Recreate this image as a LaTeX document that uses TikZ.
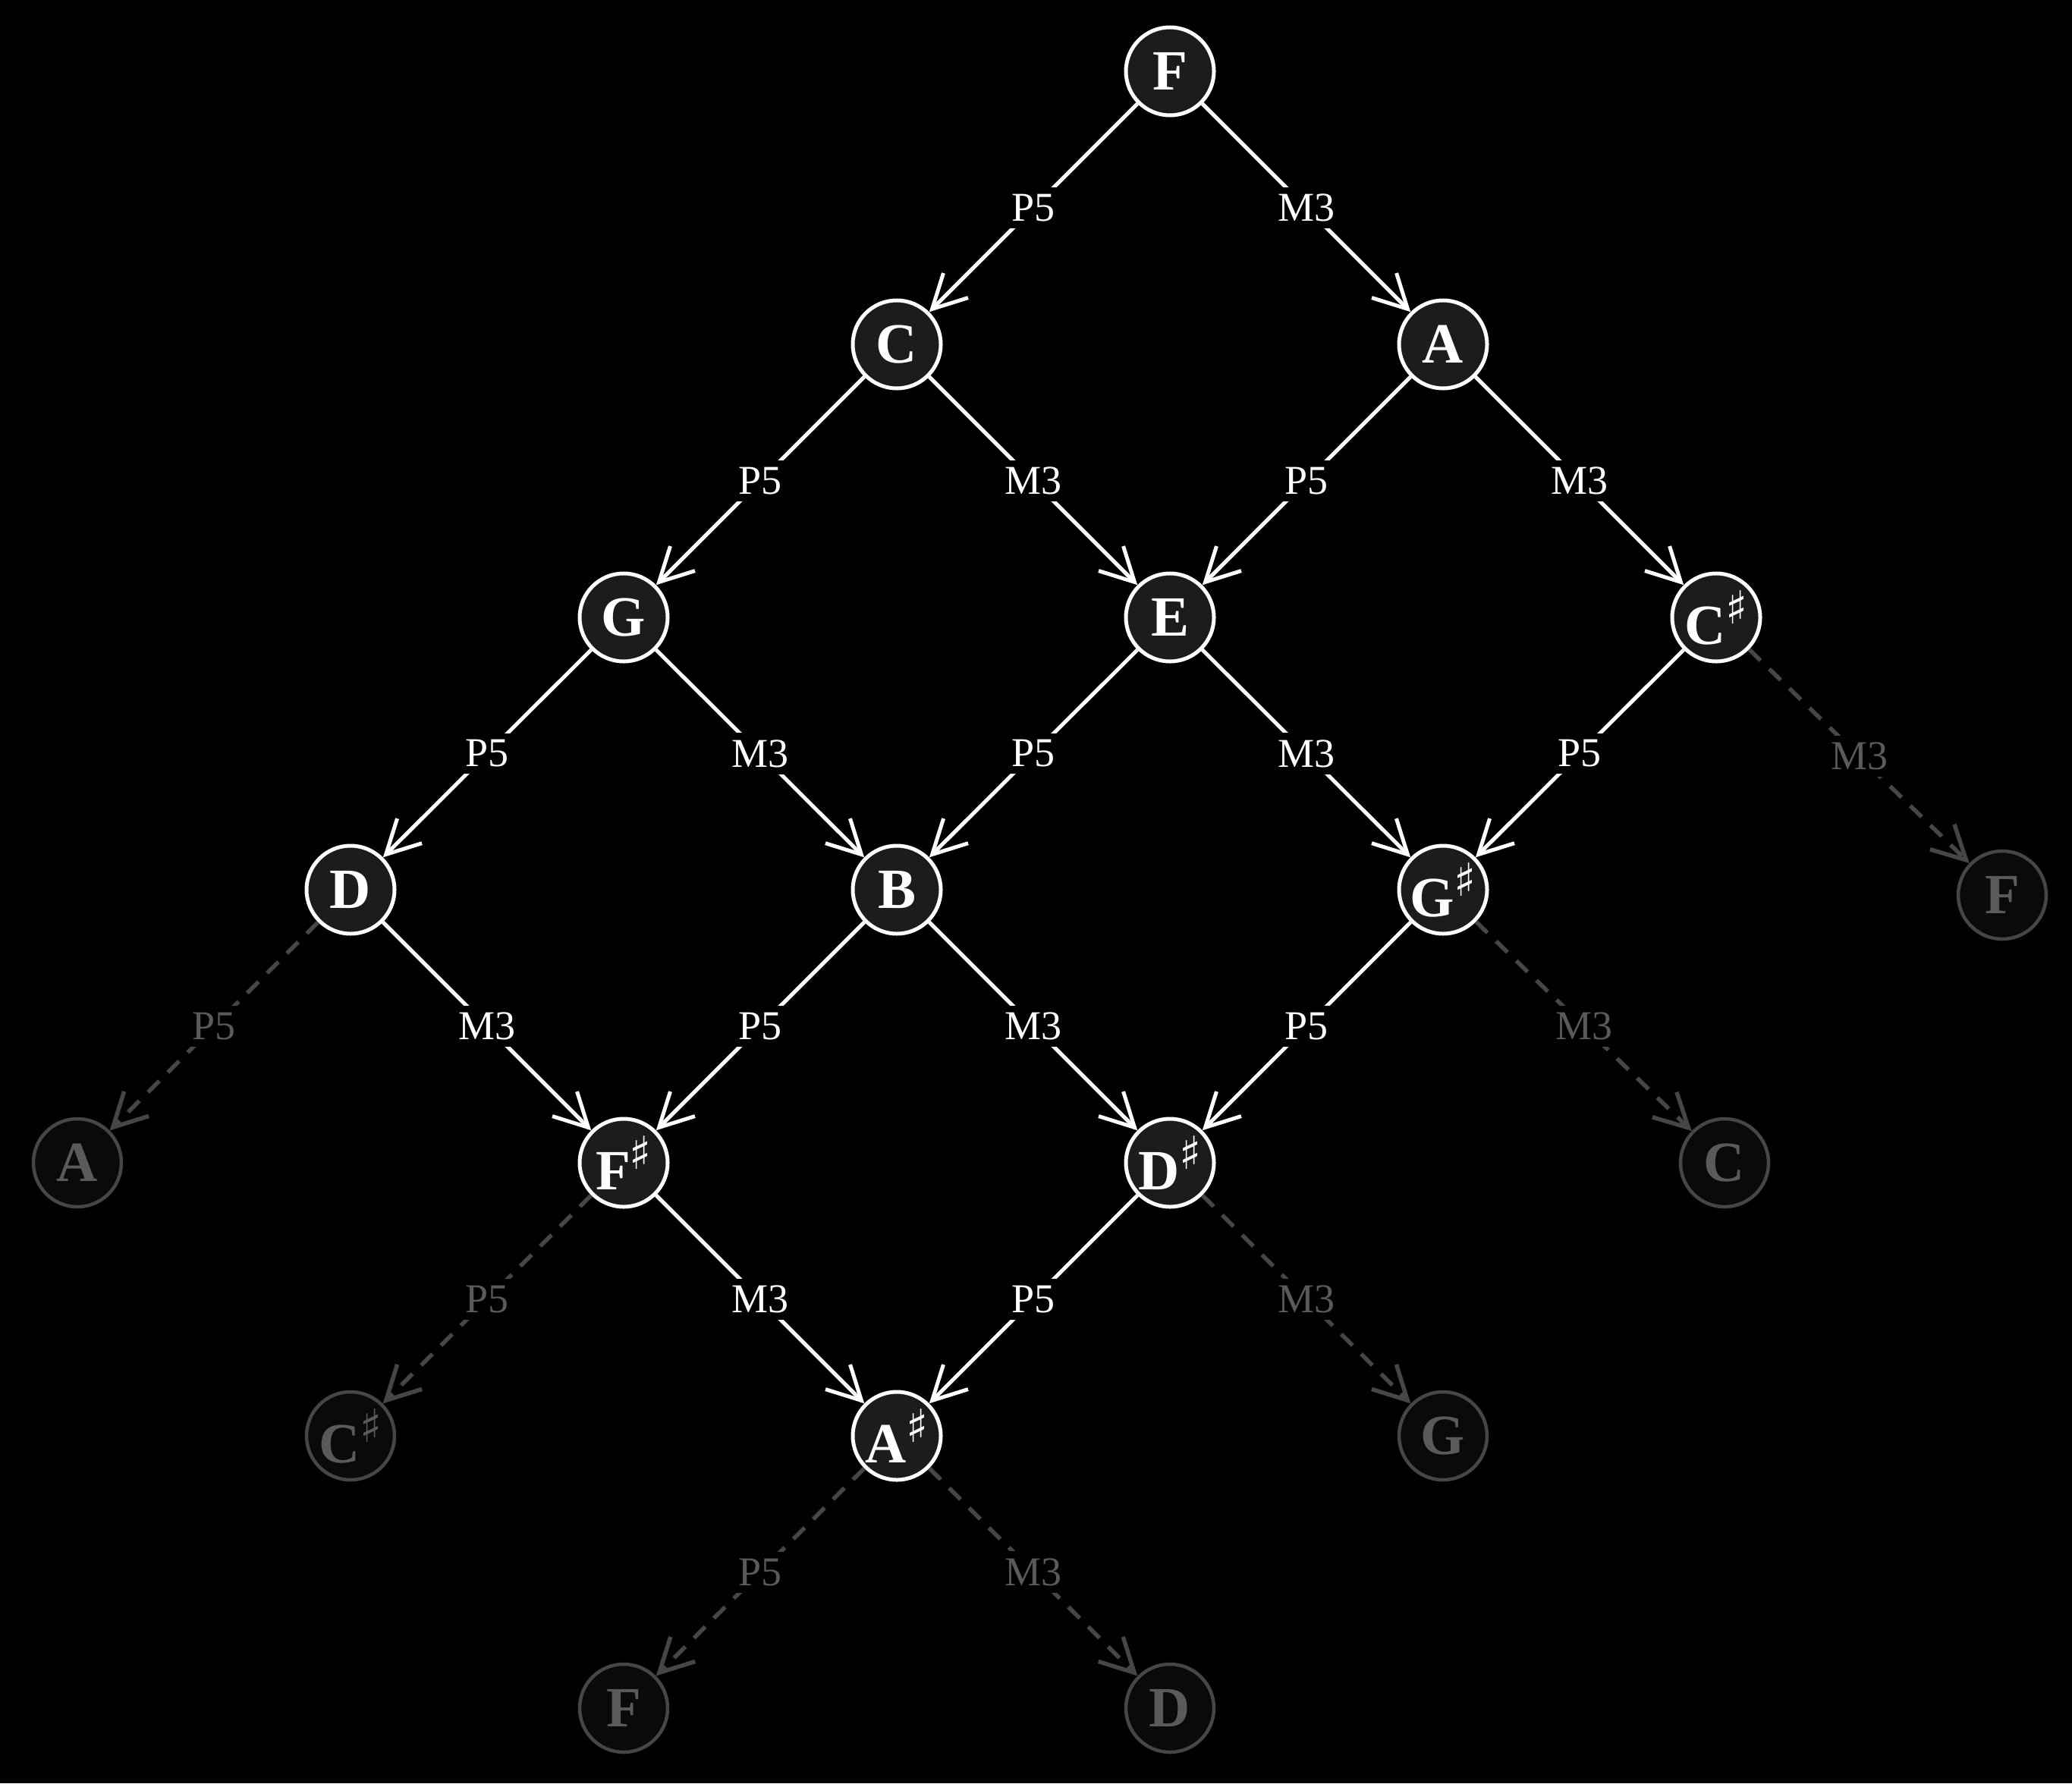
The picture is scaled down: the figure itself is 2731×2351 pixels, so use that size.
\documentclass[tikz,border=0pt]{standalone}
\usepackage{fontspec}
\setmainfont{Liberation Serif}
\newfontfamily\sharpfont{DejaVu Sans}
\usetikzlibrary{arrows.meta}
\definecolor{nodefill}{HTML}{1C1C1C}
\definecolor{fadefill}{HTML}{0A0A0A}
\definecolor{fadeline}{HTML}{464646}
\definecolor{fadetext}{HTML}{5A5A5A}
\newcommand{\shp}[1]{\makebox[0pt]{#1\kern-1pt\raisebox{27pt}{\fontsize{60}{60}\selectfont\sharpfont\bfseries ♯}}}
\begin{document}
\begin{tikzpicture}[x=1pt,y=-1pt,
  note/.style={circle, draw=white, line width=5pt, fill=nodefill, minimum size=116pt, inner sep=0pt, text=white, font=\fontsize{75}{75}\selectfont\bfseries},
  fadenote/.style={note, draw=fadeline, line width=4.5pt, fill=fadefill, text=fadetext},
  link/.style={draw=white, line width=5pt, -{Straight Barb[length=44pt,width=46pt]}},
  fadelink/.style={link, draw=fadeline, line width=5.5pt, dash pattern=on 21pt off 16pt},
  lab/.style={fill=black, text=white, inner sep=9pt, font=\fontsize{54}{54}\selectfont},
  fadelab/.style={lab, text=fadetext}]
\useasboundingbox (0,0) rectangle (2731,2351);
\fill[black] (0,0) rectangle (2731,2351);
% active nodes
\node[note] (F0) at (1542,94) {F};
\node[note] (C) at (1182,454) {C};
\node[note] (A) at (1902,454) {A};
\node[note] (G) at (822,814) {G};
\node[note] (E) at (1542,814) {E};
\node[note] (Cs) at (2262,814) {\shp{C}};
\node[note] (D) at (462,1173) {D};
\node[note] (B) at (1182,1173) {B};
\node[note] (Gs) at (1902,1173) {\shp{G}};
\node[note] (Fs) at (822,1533) {\shp{F}};
\node[note] (Ds) at (1542,1533) {\shp{D}};
\node[note] (As) at (1182,1893) {\shp{A}};
% faded nodes
\node[fadenote] (fF) at (2639,1180) {F};
\node[fadenote] (fA) at (102,1533) {A};
\node[fadenote] (fC) at (2273,1533) {C};
\node[fadenote] (fCs) at (462,1893) {\shp{C}};
\node[fadenote] (fG) at (1902,1893) {G};
\node[fadenote] (fF2) at (822,2252) {F};
\node[fadenote] (fD) at (1542,2252) {D};
% active edges
\draw[link] (F0) -- node[lab]{P5} (C);
\draw[link] (F0) -- node[lab]{M3} (A);
\draw[link] (C) -- node[lab]{P5} (G);
\draw[link] (C) -- node[lab]{M3} (E);
\draw[link] (A) -- node[lab]{P5} (E);
\draw[link] (A) -- node[lab]{M3} (Cs);
\draw[link] (G) -- node[lab]{P5} (D);
\draw[link] (G) -- node[lab]{M3} (B);
\draw[link] (E) -- node[lab]{P5} (B);
\draw[link] (E) -- node[lab]{M3} (Gs);
\draw[link] (Cs) -- node[lab]{P5} (Gs);
\draw[link] (D) -- node[lab]{M3} (Fs);
\draw[link] (B) -- node[lab]{P5} (Fs);
\draw[link] (B) -- node[lab]{M3} (Ds);
\draw[link] (Gs) -- node[lab]{P5} (Ds);
\draw[link] (Fs) -- node[lab]{M3} (As);
\draw[link] (Ds) -- node[lab]{P5} (As);
% faded edges
\draw[fadelink] (Cs) -- node[fadelab]{M3} (fF);
\draw[fadelink] (D) -- node[fadelab]{P5} (fA);
\draw[fadelink] (Gs) -- node[fadelab]{M3} (fC);
\draw[fadelink] (Fs) -- node[fadelab]{P5} (fCs);
\draw[fadelink] (Ds) -- node[fadelab]{M3} (fG);
\draw[fadelink] (As) -- node[fadelab]{P5} (fF2);
\draw[fadelink] (As) -- node[fadelab]{M3} (fD);
\end{tikzpicture}
\end{document}
